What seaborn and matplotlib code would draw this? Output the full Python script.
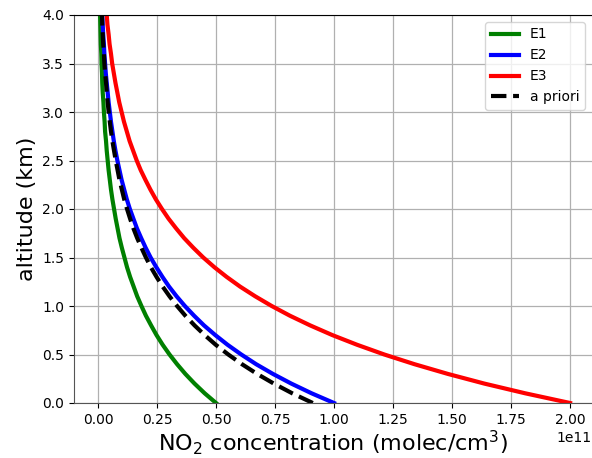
import numpy as np
import pandas as pd
import matplotlib
matplotlib.use("Agg")
import matplotlib.pyplot as plt
import seaborn as sns

# altitude grid (km)
altitude = [round(0.1 * i, 1) for i in range(41)]

# NO2 concentration profiles, in units of 1e11 molec/cm3
e1 = [0.500, 0.452, 0.409, 0.370, 0.335, 0.303, 0.274, 0.248, 0.225, 0.203,
      0.184, 0.166, 0.151, 0.136, 0.123, 0.112, 0.101, 0.091, 0.083, 0.075,
      0.068, 0.061, 0.055, 0.050, 0.045, 0.041, 0.037, 0.034, 0.030, 0.028,
      0.025, 0.023, 0.020, 0.018, 0.017, 0.015, 0.014, 0.012, 0.011, 0.010, 0.009]
e2 = [1.000, 0.905, 0.819, 0.741, 0.670, 0.607, 0.549, 0.497, 0.449, 0.407,
      0.368, 0.333, 0.301, 0.273, 0.247, 0.223, 0.202, 0.183, 0.165, 0.150,
      0.135, 0.122, 0.111, 0.100, 0.091, 0.082, 0.074, 0.067, 0.061, 0.055,
      0.050, 0.045, 0.041, 0.037, 0.033, 0.030, 0.027, 0.025, 0.022, 0.020, 0.018]
e3 = [2.000, 1.810, 1.637, 1.482, 1.341, 1.213, 1.098, 0.993, 0.899, 0.813,
      0.736, 0.666, 0.602, 0.545, 0.493, 0.446, 0.404, 0.365, 0.331, 0.299,
      0.271, 0.245, 0.222, 0.201, 0.181, 0.164, 0.149, 0.134, 0.122, 0.110,
      0.100, 0.090, 0.082, 0.074, 0.067, 0.060, 0.055, 0.049, 0.045, 0.040, 0.037]
apriori = [0.910, 0.823, 0.745, 0.674, 0.610, 0.552, 0.499, 0.452, 0.409, 0.370,
           0.335, 0.303, 0.274, 0.248, 0.224, 0.203, 0.184, 0.166, 0.150, 0.136,
           0.123, 0.111, 0.101, 0.091, 0.083, 0.075, 0.068, 0.061, 0.055, 0.050,
           0.045, 0.041, 0.037, 0.034, 0.030, 0.027, 0.025, 0.022, 0.020, 0.018, 0.017]

series_names = ["E1", "E2", "E3", "a priori"]
series_values = [e1, e2, e3, apriori]
series_colors = ["#008000", "#0000ff", "#ff0000", "#000000"]
series_styles = ["-", "-", "-", "--"]

scale = 1e11

fig = plt.figure(figsize=(5.92, 4.58), dpi=100)
ax = fig.add_axes([74 / 592, 1 - 403 / 458, (592 - 74) / 592, (403 - 15) / 458])

for name, vals, col, ls in zip(series_names, series_values, series_colors, series_styles):
    df = pd.DataFrame({"conc": np.array(vals) * scale, "alt": altitude})
    sns.lineplot(data=df, x="conc", y="alt", sort=False, estimator=None,
                 color=col, linestyle=ls, linewidth=3, label=name, ax=ax)

ax.set_ylim(0, 4.0)
ax.set_xlim(-0.1017 * scale, 2.093 * scale)
ax.set_xticks(np.arange(0, 2.01, 0.25) * scale)
ax.set_yticks(np.arange(0, 4.01, 0.5))
ax.grid(True, color="#b0b0b0", linewidth=0.9)
ax.tick_params(labelsize=10)
ax.xaxis.get_offset_text().set_fontsize(10)

ax.set_xlabel("NO$_2$ concentration (molec/cm$^3$)", fontsize=16, labelpad=1)
ax.set_ylabel("altitude (km)", fontsize=16)

for s in ["left", "bottom"]:
    ax.spines[s].set_color("#555555")
ax.spines["right"].set_visible(False)

ax.legend(loc="upper right", fontsize=10)

fig.savefig("out.png", dpi=100)
